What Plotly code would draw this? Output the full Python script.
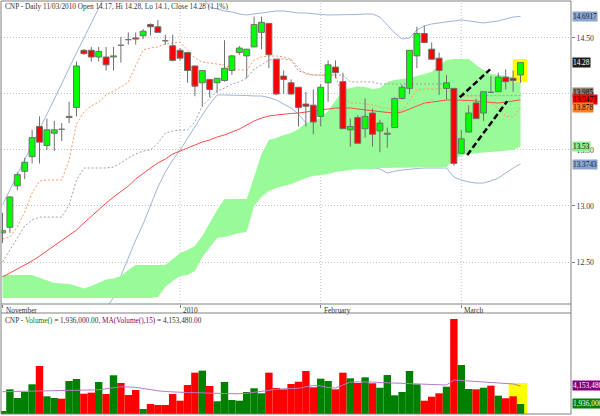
import plotly.graph_objects as go

# ---------------- data ----------------
bar_index = list(range(71))
month_ticks = [0, 24, 43, 62]
month_labels = ["November", "2010", "February", "March"]

opens = [12.76, 12.81, 13.18, 13.31, 13.44, 13.71, 13.54, 13.65, 13.69, 13.79,
         13.88, 14.39, 14.39, 14.33, 14.33, 14.33, 14.44, 14.49, 14.50, 14.52,
         14.62, 14.60, 14.48, 14.43, 14.39, 14.37, 14.25, 14.10, 14.13, 14.10,
         14.12, 14.21, 14.37, 14.34, 14.42, 14.55, 14.63, 14.31, 14.16, 14.10,
         14.06, 13.91, 13.90, 13.80, 14.10, 14.24, 14.11, 13.68, 13.79, 13.69,
         13.83, 13.67, 13.64, 13.70, 13.96, 14.05, 14.34, 14.54, 14.40, 14.32,
         14.05, 14.05, 13.47, 13.66, 13.92, 13.83, 14.02, 14.02, 14.15, 14.14,
         14.17]
highs = [12.94, 13.09, 13.30, 13.43, 13.68, 13.80, 13.78, 13.76, 13.74, 13.93,
         14.29, 14.40, 14.42, 14.42, 14.42, 14.42, 14.51, 14.55, 14.55, 14.58,
         14.63, 14.66, 14.53, 14.53, 14.41, 14.37, 14.25, 14.21, 14.13, 14.14,
         14.48, 14.35, 14.43, 14.40, 14.69, 14.69, 14.63, 14.31, 14.21, 14.13,
         14.06, 14.02, 14.04, 14.09, 14.30, 14.30, 14.19, 13.78, 13.81, 13.96,
         13.87, 13.77, 13.70, 13.97, 14.08, 14.39, 14.60, 14.61, 14.46, 14.37,
         14.17, 14.05, 13.68, 13.90, 13.96, 14.02, 14.16, 14.19, 14.22, 14.21,
         14.28]
lows = [12.67, 12.76, 13.14, 13.24, 13.38, 13.38, 13.50, 13.49, 13.58, 13.74,
        13.80, 14.35, 14.29, 14.29, 14.21, 14.21, 14.28, 14.44, 14.44, 14.49,
        14.52, 14.55, 14.44, 14.29, 14.30, 14.10, 13.98, 13.89, 13.97, 14.01,
        14.11, 14.17, 14.35, 14.14, 14.42, 14.40, 14.23, 13.99, 14.00, 13.99,
        13.71, 13.71, 13.64, 13.71, 13.93, 14.14, 13.69, 13.53, 13.56, 13.61,
        13.53, 13.48, 13.52, 13.70, 13.95, 14.00, 14.23, 14.46, 14.31, 13.99,
        13.95, 13.36, 13.47, 13.66, 13.78, 13.76, 14.01, 14.02, 14.04, 14.02,
        14.10]
closes = [12.78, 13.08, 13.28, 13.39, 13.61, 13.57, 13.68, 13.68, 13.685, 13.80,
          14.25, 14.36, 14.33, 14.38, 14.26, 14.34, 14.435, 14.485, 14.49, 14.56,
          14.60, 14.55, 14.475, 14.30, 14.32, 14.21, 14.07, 14.21, 14.04, 14.14,
          14.23, 14.34, 14.41, 14.40, 14.62, 14.64, 14.35, 14.00, 14.13, 14.00,
          13.88, 13.89, 13.75, 14.06, 14.26, 14.19, 13.69, 13.71, 13.56, 13.80,
          13.64, 13.74, 13.65, 13.96, 14.06, 14.39, 14.54, 14.46, 14.31, 14.21,
          14.10, 13.38, 13.60, 13.83, 13.78, 14.02, 14.015, 14.15, 14.11, 14.12,
          14.28]

tenkan = [12.705, 12.723, 12.812, 12.946, 13.116, 13.223, 13.232, 13.232, 13.232, 13.410,
          13.732, 13.839, 13.893, 13.928, 13.991, 14.026, 14.062, 14.107, 14.250, 14.393,
          14.411, 14.419, 14.446, 14.455, 14.464, 14.393, 14.321, 14.285, 14.277, 14.268,
          14.259, 14.223, 14.214, 14.214, 14.303, 14.330, 14.339, 14.339, 14.330, 14.312,
          14.232, 14.178, 14.169, 14.169, 14.169, 14.169, 13.964, 13.919, 13.919, 13.910,
          13.901, 13.884, 13.875, 13.866, 13.848, 13.946, 14.035, 14.044, 14.044, 14.044,
          14.062, 13.982, 13.982, 13.982, 13.982, 13.982, 13.919, 13.875, 13.803, 13.794,
          13.878]
kijun = [12.500, 12.607, 12.723, 12.821, 12.875, 12.901, 12.901, 12.901, 12.901, 13.009,
         13.232, 13.339, 13.339, 13.339, 13.339, 13.348, 13.384, 13.428, 13.464, 13.491,
         13.500, 13.562, 13.651, 13.669, 13.678, 13.678, 13.750, 13.893, 13.964, 14.026,
         14.053, 14.089, 14.107, 14.143, 14.223, 14.259, 14.303, 14.312, 14.312, 14.303,
         14.205, 14.187, 14.169, 14.169, 14.169, 14.169, 14.169, 14.107, 14.107, 14.107,
         14.107, 14.089, 14.089, 14.089, 14.089, 14.089, 14.089, 14.089, 14.089, 14.089,
         14.089, 13.995, 13.985, 13.985, 13.985, 13.985, 13.985, 13.985, 13.985, 13.985,
         13.985]
ma_red = [12.366, 12.401, 12.437, 12.473, 12.509, 12.553, 12.598, 12.643, 12.687, 12.732,
          12.785, 12.848, 12.910, 12.973, 13.026, 13.080, 13.125, 13.178, 13.241, 13.294,
          13.339, 13.384, 13.419, 13.464, 13.491, 13.518, 13.544, 13.571, 13.589, 13.616,
          13.634, 13.660, 13.687, 13.723, 13.759, 13.785, 13.803, 13.812, 13.821, 13.826,
          13.830, 13.839, 13.848, 13.857, 13.870, 13.875, 13.875, 13.875, 13.866, 13.857,
          13.848, 13.839, 13.835, 13.830, 13.839, 13.866, 13.893, 13.919, 13.928, 13.937,
          13.946, 13.946, 13.946, 13.942, 13.937, 13.928, 13.924, 13.919, 13.928, 13.937,
          13.947]
bb_upper = [13.009, 13.143, 13.277, 13.410, 13.544, 13.687, 13.821, 13.955, 14.089, 14.232,
            14.366, 14.500, 14.634, 14.768, 14.900, 14.980, 15.030, 15.060, 15.080, 15.100,
            15.100, 15.080, 15.050, 15.020, 14.980, 14.940, 14.900, 14.860, 14.777, 14.759,
            14.741, 14.732, 14.714, 14.705, 14.714, 14.723, 14.732, 14.741, 14.741, 14.732,
            14.723, 14.723, 14.714, 14.710, 14.705, 14.705, 14.705, 14.705, 14.710, 14.714,
            14.714, 14.687, 14.616, 14.544, 14.491, 14.500, 14.571, 14.607, 14.625, 14.634,
            14.643, 14.652, 14.661, 14.652, 14.643, 14.634, 14.643, 14.652, 14.669, 14.687,
            14.692]
bb_lower = [11.60, 11.62, 11.65, 11.68, 11.70, 11.73, 11.77, 11.81, 11.85, 11.89,
            11.93, 11.97, 12.01, 12.05, 12.08, 12.187, 12.375, 12.544, 12.696, 12.839,
            13.000, 13.169, 13.303, 13.410, 13.500, 13.607, 13.714, 13.812, 13.910, 13.991,
            13.991, 13.991, 13.991, 13.986, 13.982, 13.982, 13.968, 13.946, 13.910, 13.875,
            13.821, 13.741, 13.678, 13.625, 13.571, 13.518, 13.464, 13.410, 13.375, 13.348,
            13.339, 13.330, 13.294, 13.312, 13.321, 13.330, 13.334, 13.339, 13.339, 13.343,
            13.339, 13.259, 13.232, 13.214, 13.205, 13.205, 13.223, 13.250, 13.294, 13.339,
            13.374]
cloud_upper = [12.384, 12.384, 12.384, 12.384, 12.384, 12.360, 12.333, 12.312, 12.308, 12.303,
               12.285, 12.263, 12.285, 12.316, 12.343, 12.352, 12.375, 12.428, 12.473, 12.473,
               12.473, 12.473, 12.473, 12.526, 12.580, 12.607, 12.643, 12.732, 12.848, 12.964,
               13.062, 13.062, 13.062, 13.062, 13.259, 13.464, 13.589, 13.607, 13.634, 13.651,
               13.687, 13.741, 13.759, 13.785, 13.848, 13.937, 14.035, 14.053, 14.067, 14.062,
               14.044, 14.053, 14.107, 14.125, 14.134, 14.143, 14.160, 14.178, 14.196, 14.259,
               14.303, 14.312, 14.312, 14.312, 14.259, 14.214, 14.178, 14.169, 14.160, 14.152,
               14.143]
cloud_lower = [12.178, 12.178, 12.178, 12.178, 12.178, 12.178, 12.178, 12.178, 12.178, 12.178,
               12.178, 12.178, 12.178, 12.178, 12.178, 12.178, 12.178, 12.178, 12.178, 12.178,
               12.178, 12.187, 12.276, 12.330, 12.375, 12.384, 12.419, 12.544, 12.625, 12.714,
               12.723, 12.741, 12.759, 12.768, 13.000, 13.080, 13.134, 13.160, 13.178, 13.196,
               13.223, 13.250, 13.268, 13.277, 13.285, 13.303, 13.312, 13.321, 13.330, 13.330,
               13.330, 13.339, 13.339, 13.339, 13.339, 13.343, 13.343, 13.348, 13.348, 13.348,
               13.348, 13.410, 13.455, 13.464, 13.473, 13.477, 13.482, 13.486, 13.491, 13.500,
               13.530]
volume_m = [1.07, 3.74, 2.67, 3.41, 4.36, 6.61, 2.88, 2.67, 2.59, 4.77,
            5.01, 3.20, 3.33, 4.64, 3.17, 5.47, 4.52, 3.04, 3.66, 1.32,
            1.93, 1.81, 1.81, 3.17, 2.34, 4.27, 5.79, 6.04, 4.15, 2.27,
            4.64, 2.43, 2.34, 3.41, 3.87, 3.25, 5.79, 3.90, 3.74, 4.40,
            4.68, 6.00, 3.99, 5.05, 4.77, 3.74, 5.79, 5.10, 4.52, 5.22,
            4.48, 3.94, 5.50, 3.00, 3.41, 6.00, 4.36, 2.34, 2.83, 3.25,
            4.06, 12.40, 6.74, 3.78, 3.74, 3.94, 4.19, 2.96, 2.64, 2.88,
            1.936]
volume_ma_m = [3.45, 3.47, 3.49, 3.51, 3.53, 3.55, 3.58, 3.60, 3.63, 3.66,
               3.66, 3.66, 3.66, 3.68, 3.80, 3.97, 4.06, 4.03, 3.99, 3.85,
               3.66, 3.56, 3.47, 3.41, 3.35, 3.34, 3.33, 3.33, 3.30, 3.25,
               3.21, 3.17, 3.20, 3.25, 3.39, 3.53, 3.63, 3.74, 3.80, 3.87,
               3.87, 4.05, 4.21, 4.15, 3.97, 3.90, 4.27, 4.64, 4.66, 4.68,
               4.63, 4.58, 4.55, 4.52, 4.47, 4.43, 4.38, 4.33, 4.30, 4.27,
               4.27, 4.89, 4.83, 4.77, 4.72, 4.68, 4.63, 4.58, 4.49, 4.40,
               4.153]

price_ticks = [12.5, 13.0, 13.5, 14.0, 14.5]
price_tick_labels = ["12.50", "13.00", "13.50", "14.00", "14.50"]

trend_up_x, trend_up_y = [61.8, 65.9], [13.97, 14.22]
trend_lo_x, trend_lo_y = [62.8, 68.2], [13.455, 13.935]
highlight_x, highlight_y = [68.95, 70.92], [14.105, 14.31]
vol_highlight_x, vol_highlight_top = [68.4, 70.9], 4.52

last_values = [14.6917, 14.28, 13.985, 13.9473, 13.878, 13.53, 13.3743]
last_labels = ["14.6917", "14.28", "13.985", "13.9473", "13.878", "13.53", "13.3743"]
vol_last_values = [4.15348, 1.936]
vol_last_labels = ["4,153,480.00", "1,936,000.00"]

header = "CNP - Daily 11/03/2010 Open 14.17, Hi 14.28, Lo 14.1, Close 14.28 (1.1%)"
vol_header = ("CNP - <span style='color:#008000'>Volume()</span> = 1,936,000.00, "
              "<span style='color:#800080'>MA(Volume(),15)</span> = 4,153,480.00")

# ---------------- styles ----------------
FONT = "Liberation Serif"
GREEN, RED = "#00ff00", "#ff0000"
VGREEN, VRED = "#008000", "#ff0000"
EDGE = "#707070"
HALF = 0.4          # half body width, in bars
MAIN_DOM = [0.26634, 1.0]
VOL_DOM = [0.0, 0.24455]

up = [c > o for o, c in zip(opens, closes)]
vol_col = [VGREEN if u else VRED for u in up]

wick_x, wick_y = [], []
for i, h, l in zip(bar_index, highs, lows):
    wick_x += [i, i, None]
    wick_y += [l, h, None]


def bodies(want_up):
    xs, ys = [], []
    for i, o, c, u in zip(bar_index, opens, closes, up):
        if u != want_up:
            continue
        lo, hi = min(o, c), max(o, c)
        if hi - lo < 0.003:
            hi = lo + 0.003
        xs += [i - HALF, i + HALF, i + HALF, i - HALF, i - HALF, None]
        ys += [lo, lo, hi, hi, lo, None]
    return xs, ys


fig = go.Figure()
band = dict(color="#9fb5d8", width=1)
fig.add_trace(go.Scatter(x=bar_index, y=bb_upper, mode="lines", line=band))
fig.add_trace(go.Scatter(x=bar_index, y=bb_lower, mode="lines", line=band))
fig.add_trace(go.Scatter(x=bar_index, y=cloud_lower, mode="lines", line=dict(width=0)))
fig.add_trace(go.Scatter(x=bar_index, y=cloud_upper, mode="lines", line=dict(width=0),
                         fill="tonexty", fillcolor="#98fb98"))
fig.add_trace(go.Scatter(x=bar_index, y=ma_red, mode="lines", line=dict(color="#ff4a4a", width=1)))
fig.add_trace(go.Scatter(x=bar_index, y=kijun, mode="lines",
                         line=dict(color="#a0a0a0", width=1, dash="2px,2px")))
fig.add_trace(go.Scatter(x=bar_index, y=tenkan, mode="lines",
                         line=dict(color="#ff9966", width=1, dash="2px,2px")))
fig.add_trace(go.Scatter(x=[highlight_x[0], highlight_x[1], highlight_x[1], highlight_x[0]],
                         y=[highlight_y[0], highlight_y[0], highlight_y[1], highlight_y[1]],
                         mode="none", fill="toself", fillcolor="#ffff00"))
fig.add_trace(go.Scatter(x=wick_x, y=wick_y, mode="lines", line=dict(color=EDGE, width=1)))
for want, col in ((True, GREEN), (False, RED)):
    bx, by = bodies(want)
    fig.add_trace(go.Scatter(x=bx, y=by, mode="lines", fill="toself", fillcolor=col,
                             line=dict(color=EDGE, width=1)))
dash = dict(color="#000000", width=2.5, dash="6px,3px")
fig.add_trace(go.Scatter(x=trend_up_x, y=trend_up_y, mode="lines", line=dash))
fig.add_trace(go.Scatter(x=trend_lo_x, y=trend_lo_y, mode="lines", line=dash))

fig.add_trace(go.Bar(x=bar_index, y=volume_m, width=1.0, xaxis="x2", yaxis="y2",
                     marker=dict(color=vol_col, line=dict(width=0))))
fig.add_trace(go.Scatter(x=bar_index, y=volume_ma_m, mode="lines", xaxis="x2", yaxis="y2",
                         line=dict(color="#b878c8", width=1)))

shapes = []
for t in month_ticks[1:]:
    shapes.append(dict(type="line", xref="x", yref="paper", x0=t, x1=t,
                       y0=MAIN_DOM[0], y1=MAIN_DOM[1], layer="below",
                       line=dict(color="#c4c4c4", width=1, dash="1px,2px")))
shapes.append(dict(type="rect", xref="x2", yref="y2", x0=vol_highlight_x[0], x1=vol_highlight_x[1],
                   y0=0, y1=vol_highlight_top, layer="below", fillcolor="#ffff00", line=dict(width=0)))
shapes.append(dict(type="rect", xref="paper", yref="paper", x0=0, x1=1, y0=0, y1=1,
                   line=dict(color="#808080", width=1)))
for yy in (MAIN_DOM[0], VOL_DOM[1]):
    shapes.append(dict(type="line", xref="paper", yref="paper", x0=0, x1=1, y0=yy, y1=yy,
                       line=dict(color="#808080", width=1)))

ann = []
ann.append(dict(text=header, xref="paper", yref="paper", x=0, y=1, xanchor="left", yanchor="top",
                xshift=2, yshift=1, showarrow=False, font=dict(family=FONT, size=7.3, color="#333333")))
ann.append(dict(text=vol_header, xref="paper", yref="paper", x=0, y=VOL_DOM[1], xanchor="left",
                yanchor="top", xshift=2, yshift=-1, showarrow=False,
                font=dict(family=FONT, size=7.3, color="#333333")))
for t, lab in zip(month_ticks, month_labels):
    ann.append(dict(text=lab, xref="x", yref="paper", x=t, y=MAIN_DOM[0], xanchor="left",
                    yanchor="top", xshift=1, yshift=0, showarrow=False,
                    font=dict(family=FONT, size=7.3, color="#333333")))
box_bg = ["#8ca6cc", "#1e1e1e", "#8f8075", "#ff0000", "#ff7f2a", "#90ee90", "#8ca6cc"]
box_fg = ["#10204a", "#ffffff", "#000000", "#000000", "#000000", "#000000", "#10204a"]
box_shift = [0, 0, 3, 0, 0, 0, 0]
for v, lab, bg, fg, sh in zip(last_values, last_labels, box_bg, box_fg, box_shift):
    ann.append(dict(text=lab, xref="paper", yref="y", x=1, y=v, xanchor="left", yanchor="middle",
                    xshift=1, yshift=sh, showarrow=False, bgcolor=bg, borderpad=0,
                    font=dict(family=FONT, size=7.3, color=fg)))
for v, lab, bg in zip(vol_last_values, vol_last_labels, ["#800080", "#008000"]):
    ann.append(dict(text=lab, xref="paper", yref="y2", x=1, y=v, xanchor="left", yanchor="middle",
                    xshift=1, showarrow=False, bgcolor=bg, borderpad=0,
                    font=dict(family=FONT, size=7.3, color="#ffffff")))

fig.update_layout(
    width=600, height=416, margin=dict(l=1, r=29, t=1, b=2),
    paper_bgcolor="#ffffff", plot_bgcolor="#ffffff", showlegend=False,
    barmode="overlay", hovermode=False,
    xaxis=dict(domain=[0, 1], range=[-0.2027, 76.824], anchor="y", showgrid=False,
               zeroline=False, showticklabels=False, tickvals=month_ticks,
               ticks="outside", ticklen=3, tickcolor="#808080"),
    yaxis=dict(domain=MAIN_DOM, range=[12.125, 14.830], side="right", anchor="x",
               tickvals=price_ticks, ticktext=price_tick_labels, ticks="outside", ticklen=3,
               tickcolor="#808080", showgrid=True, gridcolor="#c4c4c4", griddash="1px,2px",
               zeroline=False, tickfont=dict(family=FONT, size=7.7, color="#333333")),
    xaxis2=dict(domain=[0, 1], matches="x", anchor="y2", showgrid=False, zeroline=False,
                showticklabels=False),
    yaxis2=dict(domain=VOL_DOM, range=[0.702, 13.14], side="right", anchor="x2",
                showgrid=False, zeroline=False, showticklabels=False),
    shapes=shapes, annotations=ann,
)

fig.write_html("out.html", config={"displayModeBar": False},
               post_script="document.body.style.margin='0';document.body.style.overflow='hidden';")
